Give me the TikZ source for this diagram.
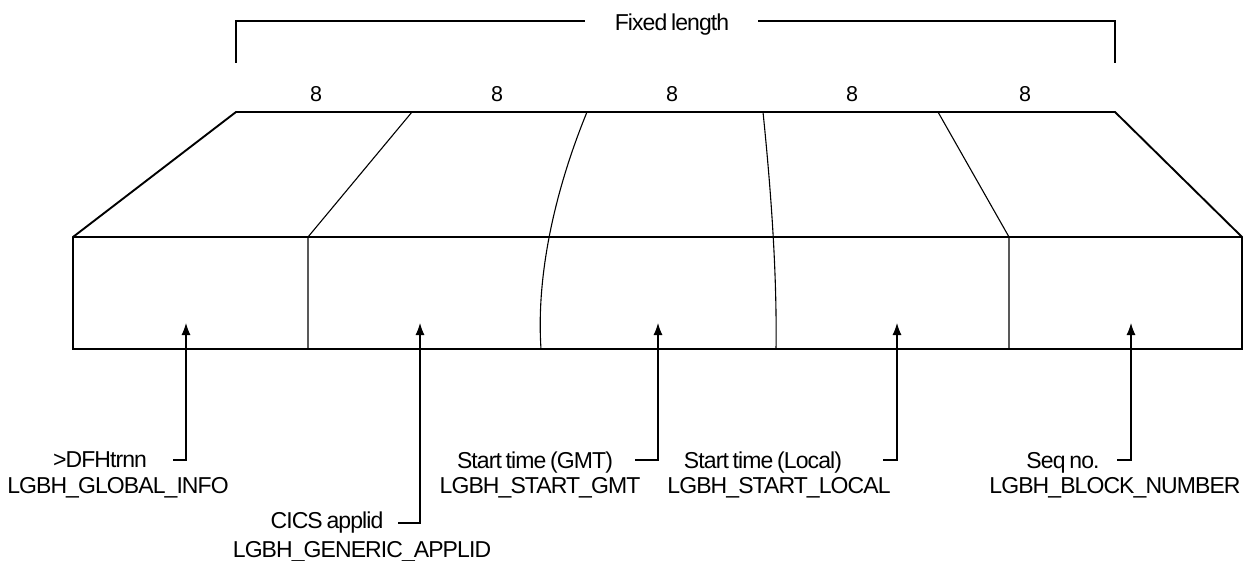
\documentclass[tikz,border=0pt]{standalone}
\usepackage{fontspec}
\setmainfont{Liberation Sans}
\newfontfamily\lblfont[LetterSpace=-4,WordSpace=0.7]{Liberation Sans}
\usetikzlibrary{arrows.meta}
\begin{document}
\begin{tikzpicture}[x=1pt,y=-1pt,
  thick line/.style={line width=1.9pt, line join=miter},
  thin line/.style={line width=1.1pt},
  lbl/.style={font=\lblfont\fontsize{23}{27}\selectfont, anchor=base, inner sep=0pt},
  num/.style={font=\fontsize{21.5}{25}\selectfont, anchor=base, inner sep=0pt},
  arr/.style={line width=1.1pt, -{Latex[length=12pt,width=9pt]}}]
\useasboundingbox (0,0) rectangle (1244,561);
% bracket
\coordinate (bl) at (236,63);
\coordinate (br) at (1115,63);
\node[lbl] (fixed) at (672,31) {Fixed length};
\draw[thin line] (bl) |- (585,21);
\draw[thin line] (br) |- (758,21);
% field sizes
\foreach \x/\n in {316/a,497/b,672/c,852/d,1025/e}
  \node[num] (n\n) at (\x,102) {8};
% outline
\coordinate (tl) at (236,112);
\coordinate (tr) at (1115,112);
\coordinate (bxl) at (73,237);
\coordinate (bxr) at (1242,237);
\coordinate (bbl) at (73,349);
\coordinate (bbr) at (1242,349);
\draw[thin line] (bxl) -- (bxr);
\draw[thick line] (bxl) -- (tl) -- (tr) -- (bxr) -- (bbr) -- (bbl) -- cycle;
% dividers
\draw[thin line] (412,112) -- (308,237) -- (308,349);
\draw[thin line] (587,112) .. controls (555,190) and (536,275) .. (541,349);
\draw[thin line] (763,112) .. controls (772,200) and (777,280) .. (776,349);
\draw[thin line] (938,112) -- (1009,237) -- (1009,349);
% arrow tips
\coordinate (t1) at (186,323);
\coordinate (t2) at (420,323);
\coordinate (t3) at (658,323);
\coordinate (t4) at (897,323);
\coordinate (t5) at (1131,323);
% hook ends
\coordinate (h1) at (173,460);
\coordinate (h2) at (398,523);
\coordinate (h3) at (635,460);
\coordinate (h4) at (883,460);
\coordinate (h5) at (1117,460);
\draw[arr] (h1) -| (t1);
\draw[arr] (h2) -| (t2);
\draw[arr] (h3) -| (t3);
\draw[arr] (h4) -| (t4);
\draw[arr] (h5) -| (t5);
% labels
\node[lbl] (l1a) at (100,467) {>DFHtrnn};
\node[lbl] (l1b) at (118,493) {LGBH\_GLOBAL\_INFO};
\node[lbl] (l2a) at (327,528) {CICS applid};
\node[lbl] (l2b) at (362,557) {LGBH\_GENERIC\_APPLID};
\node[lbl] (l3a) at (535,468) {Start time (GMT)};
\node[lbl] (l3b) at (540,493) {LGBH\_START\_GMT};
\node[lbl] (l4a) at (763,468) {Start time (Local)};
\node[lbl] (l4b) at (779,493) {LGBH\_START\_LOCAL};
\node[lbl] (l5a) at (1063,468) {Seq no.};
\node[lbl] (l5b) at (1115,493) {LGBH\_BLOCK\_NUMBER};
\end{tikzpicture}
\end{document}
